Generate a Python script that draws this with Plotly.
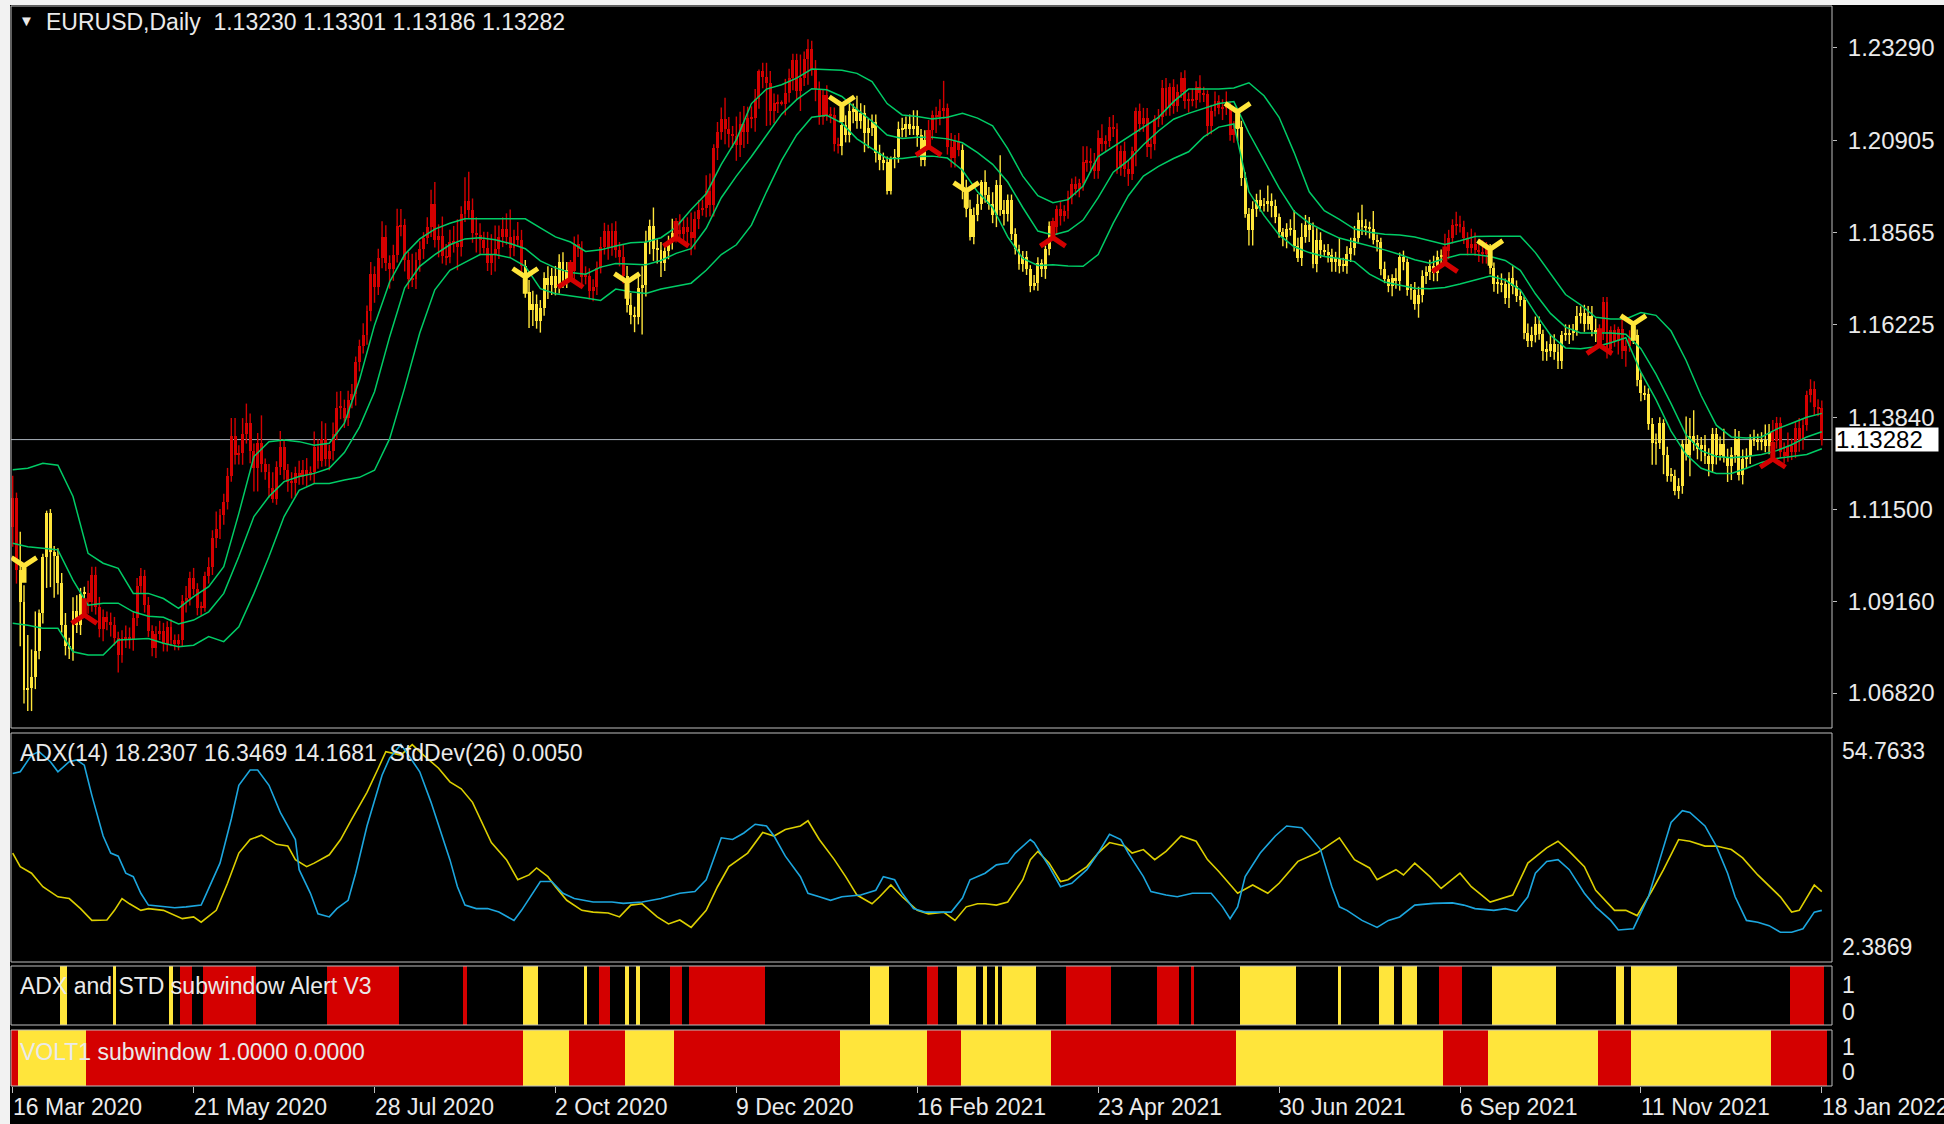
import plotly.graph_objects as go

# ======================= DATA =======================
# x axis: one slot per daily bar (bar 0 = 16 Mar 2020, bar 480 = 18 Jan 2022)
tick_bars = [0, 48, 96, 144, 192, 240, 288, 336, 384, 432, 480]
tick_dates = ["16 Mar 2020", "21 May 2020", "28 Jul 2020", "2 Oct 2020", "9 Dec 2020",
              "16 Feb 2021", "23 Apr 2021", "30 Jun 2021", "6 Sep 2021", "11 Nov 2021",
              "18 Jan 2022"]

price_ticks = [1.23290, 1.20905, 1.18565, 1.16225, 1.13840, 1.11500, 1.09160, 1.06820]

first_open = 1.1106
# daily closes in pips (price * 10000), month by month
close_pips = [
    11180, 10996, 10915, 10690, 10695, 10723, 10790, 10887, 11030, 11141, 11042, 11031,
    10963, 10856, 10803, 10794, 10891, 10855, 10935, 10938, 10914, 10984, 10902, 10844, 10875, 10862, 10856, 10823, 10779, 10822, 10824, 10820, 10873, 10955,
    10981, 10907, 10840, 10796, 10832, 10841, 10808, 10850, 10816, 10806, 10817, 10917, 10925, 10976, 10947, 10900, 10899, 10981, 11003, 11077, 11100,
    11136, 11170, 11236, 11338, 11290, 11294, 11343, 11370, 11298, 11256, 11320, 11265, 11246, 11205, 11177, 11258, 11310, 11251, 11220, 11218, 11244, 11233,
    11251, 11239, 11245, 11309, 11274, 11330, 11280, 11300, 11342, 11410, 11410, 11383, 11428, 11445, 11527, 11568, 11595, 11655, 11750, 11717, 11790, 11845, 11778,
    11763, 11800, 11872, 11876, 11787, 11737, 11737, 11786, 11814, 11842, 11870, 11930, 11838, 11847, 11797, 11793, 11833, 11830, 11820, 11903, 11937,
    11913, 11855, 11850, 11838, 11818, 11778, 11802, 11814, 11844, 11865, 11845, 11816, 11848, 11838, 11771, 11705, 11658, 11673, 11631, 11664, 11740, 11722,
    11746, 11716, 11781, 11735, 11761, 11758, 11826, 11814, 11744, 11745, 11706, 11717, 11767, 11820, 11861, 11817, 11860, 11812, 11795, 11746, 11672, 11647,
    11642, 11716, 11723, 11831, 11874, 11814, 11812, 11778, 11808, 11833, 11856, 11863, 11853, 11870, 11857, 11843, 11890, 11914, 11920, 11962, 11927,
    12071, 12113, 12145, 12121, 12108, 12102, 12079, 12134, 12112, 12147, 12148, 12197, 12269, 12254, 12238, 12165, 12186, 12188, 12185, 12213, 12249, 12297, 12216,
    12250, 12298, 12325, 12271, 12221, 12151, 12207, 12156, 12155, 12083, 12078, 12130, 12106, 12165, 12170, 12141, 12161, 12111, 12122, 12137,
    12060, 12040, 12035, 11963, 12045, 12049, 12119, 12119, 12132, 12120, 12128, 12105, 12040, 12092, 12118, 12157, 12150, 12166, 12175, 12075,
    12047, 12090, 12066, 11966, 11915, 11846, 11900, 11929, 11985, 11952, 11929, 11900, 11978, 11914, 11904, 11938, 11852, 11815, 11776, 11794, 11763, 11719, 11728,
    11778, 11763, 11813, 11874, 11870, 11915, 11899, 11911, 11948, 11979, 11966, 11983, 12036, 12036, 12034, 12013, 12097, 12083, 12089, 12126, 12120, 12021,
    12063, 12018, 12005, 12065, 12165, 12133, 12149, 12074, 12081, 12145, 12151, 12225, 12174, 12227, 12179, 12214, 12250, 12192, 12193, 12193, 12227,
    12213, 12209, 12127, 12167, 12191, 12173, 12176, 12176, 12105, 12120, 12126, 11995, 11904, 11863, 11916, 11940, 11925, 11929, 11936, 11925, 11895, 11858,
    11846, 11865, 11863, 11823, 11791, 11845, 11876, 11862, 11775, 11837, 11811, 11807, 11800, 11781, 11792, 11772, 11771, 11801, 11818, 11843, 11887, 11870,
    11869, 11866, 11836, 11833, 11762, 11737, 11719, 11740, 11733, 11795, 11780, 11710, 11710, 11674, 11698, 11745, 11755, 11772, 11752, 11795, 11798, 11808,
    11843, 11875, 11879, 11871, 11842, 11818, 11826, 11812, 11806, 11802, 11817, 11765, 11725, 11727, 11724, 11689, 11740, 11719, 11694, 11683, 11599, 11579,
    11596, 11622, 11598, 11554, 11554, 11572, 11552, 11528, 11595, 11597, 11601, 11608, 11644, 11652, 11623, 11644, 11607, 11597, 11602, 11680, 11558,
    11607, 11580, 11611, 11554, 11567, 11587, 11594, 11479, 11446, 11444, 11368, 11319, 11319, 11370, 11290, 11236, 11236, 11197, 11210, 11317, 11290, 11338,
    11320, 11303, 11315, 11286, 11265, 11343, 11290, 11316, 11285, 11260, 11289, 11330, 11239, 11278, 11286, 11327, 11328, 11321, 11327, 11311, 11348, 11325, 11370,
    11296, 11287, 11311, 11296, 11358, 11327, 11366, 11443, 11457, 11411, 11408, 11328.2,
]
# upper / lower shadow length of every bar, in pips
wick_up_pips = [
    56, 13, 97, 42, 135, 70, 100, 8, 7, 6, 10, 15,
    20, 25, 30, 20, 35, 40, 15, 15, 30, 20, 20, 25, 20, 15, 25, 20, 15, 20, 30, 25, 15, 20,
    20, 15, 20, 15, 20, 25, 20, 15, 20, 15, 15, 15, 30, 15, 25, 15, 15, 10, 25, 20, 45,
    15, 20, 20, 45, 45, 20, 40, 50, 25, 20, 25, 70, 15, 20, 40, 15, 40, 20, 15, 25, 15, 30,
    25, 30, 15, 40, 20, 45, 40, 15, 30, 40, 42, 20, 25, 25, 13, 15, 30, 15, 31, 20, 25, 40, 30,
    20, 25, 45, 40, 15, 20, 65, 20, 20, 15, 25, 35, 55, 30, 50, 30, 30, 40, 60, 20, 60,
    74, 30, 40, 30, 20, 40, 50, 60, 30, 30, 40, 70, 15, 35, 25, 15, 30, 35, 25, 20, 15, 30,
    20, 25, 20, 25, 20, 25, 20, 25, 20, 25, 20, 20, 15, 25, 20, 15, 20, 25, 20, 30, 25, 30,
    20, 30, 47, 30, 15, 46, 25, 20, 20, 15, 35, 30, 40, 20, 25, 50, 20, 25, 20, 40, 45,
    10, 25, 30, 55, 30, 20, 50, 30, 45, 30, 30, 25, 3, 20, 35, 30, 25, 20, 5, 35, 25, 15, 15,
    60, 20, 24, 20, 25, 20, 15, 25, 20, 20, 15, 20, 25, 25, 15, 35, 25, 20, 25, 20,
    20, 20, 20, 15, 5, 20, 20, 30, 20, 25, 40, 40, 15, 25, 25, 10, 20, 30, 68, 10,
    35, 15, 20, 15, 25, 25, 20, 25, 5, 30, 20, 30, 12, 75, 25, 15, 15, 15, 10, 15, 15, 10, 20,
    15, 10, 10, 10, 20, 10, 20, 15, 15, 15, 20, 10, 40, 40, 35, 25, 20, 35, 15, 25, 30, 15,
    15, 25, 20, 10, 10, 20, 25, 25, 15, 10, 20, 20, 25, 10, 20, 20, 15, 20, 20, 30, 15,
    30, 15, 10, 15, 25, 15, 20, 40, 15, 20, 20, 15, 15, 15, 20, 15, 25, 15, 40, 20, 15, 10,
    10, 15, 25, 50, 20, 35, 25, 20, 20, 30, 20, 15, 20, 15, 15, 50, 20, 20, 25, 30, 20, 40,
    20, 15, 45, 15, 10, 20, 10, 10, 25, 10, 15, 10, 15, 20, 20, 15, 15, 15, 25, 15, 15, 45,
    20, 15, 30, 20, 15, 15, 40, 30, 25, 30, 15, 10, 15, 20, 25, 15, 15, 30, 15, 15, 10, 25,
    20, 20, 20, 10, 25, 25, 25, 20, 10, 25, 20, 15, 25, 16, 20, 25, 25, 30, 20, 12, 12,
    10, 15, 5, 25, 15, 20, 15, 15, 20, 20, 15, 15, 25, 15, 10, 20, 20, 15, 20, 10, 70, 45,
    65, 20, 20, 25, 20, 15, 15, 20, 40, 20, 20, 25, 20, 25, 20, 15, 25, 15, 20, 40, 20, 30, 16,
    15, 25, 35, 20, 15, 25, 15, 10, 25, 20, 20, 20,
]
wick_dn_pips = [
    51, 35, 114, 35, 54, 59, 31, 22, 28, 80, 90, 106,
    30, 20, 25, 25, 30, 20, 25, 20, 30, 25, 20, 20, 30, 20, 30, 20, 45, 20, 25, 25, 30, 20,
    20, 20, 15, 20, 25, 15, 20, 20, 15, 15, 15, 15, 30, 20, 15, 20, 20, 10, 20, 20, 25,
    25, 25, 20, 15, 25, 25, 30, 25, 30, 60, 60, 20, 20, 25, 10, 15, 20, 25, 25, 40, 35, 20,
    20, 30, 15, 30, 20, 15, 20, 30, 25, 15, 30, 25, 20, 20, 30, 25, 20, 25, 25, 40, 20, 25, 20,
    50, 30, 20, 25, 30, 25, 20, 25, 30, 25, 15, 25, 20, 45, 20, 20, 15, 25, 60, 25, 20,
    20, 25, 45, 40, 15, 20, 30, 45, 25, 25, 20, 25, 20, 15, 15, 15, 45, 40, 20, 30, 20, 35,
    25, 20, 15, 20, 20, 25, 20, 20, 20, 20, 20, 25, 20, 15, 20, 30, 20, 20, 25, 20, 20, 25,
    40, 20, 120, 30, 30, 30, 35, 35, 20, 20, 20, 25, 20, 25, 30, 45, 30, 25, 15, 25, 30,
    30, 30, 20, 40, 35, 30, 40, 30, 40, 30, 25, 35, 25, 30, 110, 35, 30, 25, 5, 30, 25, 30, 20,
    50, 20, 65, 15, 30, 20, 20, 15, 20, 20, 20, 25, 20, 20, 30, 20, 20, 50, 40, 20,
    25, 25, 20, 10, 10, 25, 15, 20, 20, 15, 15, 30, 15, 15, 25, 25, 40, 20, 20, 20,
    25, 25, 15, 25, 20, 10, 20, 15, 15, 20, 15, 20, 30, 15, 30, 20, 15, 15, 15, 20, 15, 15, 10,
    20, 20, 25, 15, 15, 20, 25, 15, 20, 20, 15, 20, 20, 25, 25, 20, 20, 20, 20, 15, 20, 15,
    20, 20, 30, 15, 40, 20, 20, 25, 30, 15, 20, 20, 20, 20, 20, 15, 15, 20, 30, 15, 20,
    25, 20, 25, 20, 15, 15, 30, 20, 15, 20, 30, 20, 10, 40, 40, 20, 15, 15, 20, 30, 15, 15,
    25, 30, 15, 15, 10, 20, 15, 30, 10, 20, 20, 10, 20, 25, 25, 20, 15, 20, 20, 20, 15, 20,
    20, 25, 10, 25, 15, 10, 15, 25, 20, 25, 20, 15, 25, 15, 35, 20, 20, 20, 20, 20, 20, 20,
    20, 15, 25, 15, 15, 20, 15, 15, 25, 25, 25, 15, 20, 25, 20, 15, 25, 20, 15, 15, 15, 15,
    15, 20, 15, 25, 25, 15, 20, 20, 20, 15, 25, 20, 15, 20, 20, 15, 15, 20, 20, 20, 23,
    15, 15, 35, 20, 40, 15, 15, 15, 20, 15, 15, 55, 55, 15, 50, 15, 15, 11, 20, 20, 15, 55,
    20, 25, 30, 20, 30, 20, 25, 15, 15, 40, 35, 20, 15, 25, 25, 20, 15, 20, 20, 15, 20, 15, 20,
    15, 20, 15, 20, 15, 30, 25, 15, 20, 20, 20, 15,
]

# green channel lines, one reading every 4 bars (bar 0, 4, ..., 480)
band_step = 4
band_upper = [
    1.1251, 1.1255, 1.1268, 1.1263, 1.1183, 1.1038, 1.1013, 1.1000, 1.0936, 1.0936,
    1.0923, 1.0898, 1.0928, 1.0953, 1.1004, 1.1140, 1.1285, 1.1323, 1.1327, 1.1323,
    1.1314, 1.1319, 1.1370, 1.1480, 1.1620, 1.1730, 1.1800, 1.1840, 1.1865, 1.1880,
    1.1891, 1.1891, 1.1891, 1.1891, 1.1891, 1.1868, 1.1845, 1.1832, 1.1808, 1.1812,
    1.1822, 1.1830, 1.1832, 1.1843, 1.1870, 1.1915, 1.1955, 1.2030, 1.2093, 1.2185,
    1.2222, 1.2233, 1.2250, 1.2273, 1.2272, 1.2270, 1.2262, 1.2241, 1.2185, 1.2156,
    1.2152, 1.2146, 1.2150, 1.2160, 1.2148, 1.2128, 1.2070, 1.2000, 1.1950, 1.1932,
    1.1940, 1.1975, 1.2050, 1.2075, 1.2100, 1.2125, 1.2150, 1.2190, 1.2222, 1.2222,
    1.2222, 1.2225, 1.2238, 1.2205, 1.2150, 1.2060, 1.1960, 1.1912, 1.1890, 1.1865,
    1.1857, 1.1852, 1.1850, 1.1845, 1.1835, 1.1826, 1.1835, 1.1846, 1.1847, 1.1847,
    1.1847, 1.1805, 1.1750, 1.1698, 1.1672, 1.1640, 1.1636, 1.1636, 1.1652, 1.1645,
    1.1605, 1.1530, 1.1440, 1.1365, 1.1335, 1.1332, 1.1335, 1.1355, 1.1370, 1.1385,
    1.1395,
]
band_mid = [
    1.1064, 1.1055, 1.1051, 1.1047, 1.0970, 1.0906, 1.0911, 1.0911, 1.0889, 1.0878,
    1.0875, 1.0858, 1.0868, 1.0889, 1.0936, 1.1030, 1.1132, 1.1183, 1.1221, 1.1234,
    1.1242, 1.1255, 1.1295, 1.1360, 1.1450, 1.1590, 1.1715, 1.1770, 1.1800, 1.1825,
    1.1840, 1.1843, 1.1838, 1.1828, 1.1815, 1.1784, 1.1766, 1.1754, 1.1750, 1.1768,
    1.1777, 1.1775, 1.1774, 1.1785, 1.1803, 1.1815, 1.1867, 1.1945, 1.2000, 1.2050,
    1.2105, 1.2158, 1.2195, 1.2223, 1.2220, 1.2203, 1.2170, 1.2140, 1.2105, 1.2096,
    1.2099, 1.2099, 1.2095, 1.2085, 1.2060, 1.2030, 1.1985, 1.1920, 1.1860, 1.1850,
    1.1860, 1.1888, 1.1945, 1.2010, 1.2040, 1.2080, 1.2115, 1.2145, 1.2160, 1.2172,
    1.2185, 1.2190, 1.2110, 1.2040, 1.1970, 1.1910, 1.1880, 1.1860, 1.1842, 1.1832,
    1.1822, 1.1812, 1.1800, 1.1787, 1.1778, 1.1790, 1.1800, 1.1800, 1.1795, 1.1785,
    1.1760, 1.1700, 1.1650, 1.1615, 1.1600, 1.1600, 1.1600, 1.1597, 1.1560, 1.1495,
    1.1420, 1.1340, 1.1300, 1.1285, 1.1282, 1.1285, 1.1290, 1.1300, 1.1315, 1.1335,
    1.1348,
]
band_lower = [
    1.0860, 1.0855, 1.0847, 1.0847, 1.0787, 1.0779, 1.0779, 1.0817, 1.0819, 1.0821,
    1.0809, 1.0800, 1.0804, 1.0826, 1.0813, 1.0851, 1.0936, 1.1030, 1.1132, 1.1199,
    1.1216, 1.1216, 1.1225, 1.1232, 1.1250, 1.1330, 1.1460, 1.1600, 1.1710, 1.1760,
    1.1780, 1.1800, 1.1800, 1.1792, 1.1770, 1.1713, 1.1700, 1.1695, 1.1689, 1.1683,
    1.1712, 1.1705, 1.1701, 1.1712, 1.1720, 1.1727, 1.1760, 1.1800, 1.1825, 1.1875,
    1.1960, 1.2040, 1.2105, 1.2150, 1.2155, 1.2135, 1.2095, 1.2069, 1.2045, 1.2045,
    1.2050, 1.2051, 1.2046, 1.2015, 1.1960, 1.1920, 1.1845, 1.1790, 1.1772, 1.1774,
    1.1771, 1.1770, 1.1800, 1.1880, 1.1950, 1.2000, 1.2025, 1.2045, 1.2062, 1.2100,
    1.2125, 1.2133, 1.1960, 1.1900, 1.1850, 1.1820, 1.1805, 1.1795, 1.1790, 1.1782,
    1.1750, 1.1730, 1.1722, 1.1714, 1.1713, 1.1716, 1.1725, 1.1735, 1.1745, 1.1735,
    1.1710, 1.1650, 1.1595, 1.1562, 1.1560, 1.1565, 1.1575, 1.1588, 1.1500, 1.1430,
    1.1350, 1.1290, 1.1255, 1.1242, 1.1242, 1.1255, 1.1270, 1.1280, 1.1285, 1.1290,
    1.1305,
]

# signal arrows
down_arrow_bar = [3, 136, 163, 220, 253, 325, 392, 430]
down_arrow_price = [1.1006, 1.1743, 1.1730, 1.2181, 1.1962, 1.2164, 1.1814, 1.1623]
up_arrow_bar = [19, 148, 176, 243, 276, 380, 421, 467]
up_arrow_price = [1.0881, 1.1738, 1.1843, 1.2075, 1.1843, 1.1778, 1.1569, 1.1279]

# VOLT1 state segments (also the colour of the price bars): R = red, Y = yellow
volt_start = [0, 2, 20, 136, 148, 163, 176, 220, 243, 252, 276, 325, 380, 392, 421, 430, 467]
volt_end = [2, 20, 136, 148, 163, 176, 220, 243, 252, 276, 325, 380, 392, 421, 430, 467, 482]
volt_state = ["R", "Y", "R", "Y", "R", "Y", "R", "Y", "R", "Y", "R", "Y", "R", "Y", "R", "Y", "R"]

# "ADX and STD subwindow Alert V3" segments (bars without a segment are empty)
alert_start = [13, 27, 42, 45, 51, 84, 120, 136, 152, 156, 163, 166, 175, 180, 228, 243,
               251, 258, 261, 263, 280, 304, 313, 326, 352, 363, 369, 379, 393, 426, 430, 472]
alert_end = [15, 28, 43, 48, 65, 103, 121, 140, 153, 159, 164, 167, 178, 200, 233, 246,
             256, 259, 262, 272, 292, 310, 314, 341, 353, 367, 373, 385, 410, 428, 442, 481]
alert_state = ["Y", "Y", "Y", "R", "R", "R", "R", "Y", "Y", "R", "Y", "Y", "R", "R", "Y", "R",
               "Y", "Y", "Y", "Y", "R", "R", "R", "Y", "Y", "Y", "Y", "R", "Y", "Y", "Y", "R"]

# ADX / StdDev sub-window lines (bar, value)
adx_blue_bar = [0, 2, 5, 7, 10, 12, 15, 17, 19, 21, 24, 26, 28, 30, 32, 34, 36, 40, 43, 46, 50, 51, 55, 58,
                60, 63, 65, 68, 71, 75, 76, 79, 81, 84, 86, 89, 91, 94, 98, 100, 103, 105, 108, 111, 113,
                116, 118, 120, 123, 126, 129, 133, 135, 138, 140, 143, 146, 149, 154, 159, 162, 167, 172,
                177, 181, 184, 186, 188, 191, 194, 197, 200, 202, 205, 209, 211, 214, 217, 220, 225, 229,
                231, 234, 236, 239, 242, 245, 249, 252, 254, 258, 261, 264, 266, 270, 271, 275, 278, 281,
                285, 288, 291, 294, 296, 300, 302, 306, 309, 313, 318, 321, 323, 325, 327, 331, 335, 338,
                342, 344, 347, 350, 352, 354, 358, 362, 365, 368, 372, 377, 382, 385, 388, 393, 396, 399,
                402, 404, 407, 410, 413, 417, 420, 424, 426, 430, 434, 437, 440, 443, 445, 449, 452, 455,
                457, 460, 463, 466, 469, 472, 475, 478, 480]
adx_blue_val = [45.5, 45.9, 49.7, 50.5, 48.2, 45.9, 48.2, 48.6, 47.4, 40.5, 31.2, 27.3, 26.6, 22.7, 21.9,
                18.1, 15.4, 15.0, 14.8, 15.0, 15.4, 17.3, 25.0, 35.1, 42.8, 46.3, 46.3, 42.8, 36.6, 30.4,
                23.5, 18.1, 13.4, 12.7, 14.6, 16.5, 22.7, 33.5, 45.1, 49.0, 52.1, 49.7, 45.9, 38.9, 33.5,
                25.8, 19.6, 15.4, 14.6, 14.6, 13.8, 11.9, 14.2, 18.1, 20.8, 20.8, 18.1, 16.9, 16.1, 16.1,
                15.8, 16.1, 16.9, 18.1, 18.5, 21.2, 25.8, 30.8, 30.4, 31.9, 33.9, 33.5, 31.2, 26.6, 21.9,
                18.1, 17.3, 16.5, 17.3, 17.7, 18.8, 21.9, 21.2, 18.1, 14.6, 13.8, 13.8, 13.8, 17.0, 21.2,
                22.7, 24.6, 25.0, 27.3, 30.4, 29.7, 24.2, 19.6, 20.4, 23.5, 27.3, 31.6, 30.4, 27.3, 21.9,
                18.5, 17.7, 17.3, 18.1, 18.1, 15.0, 12.3, 15.0, 21.9, 27.3, 31.2, 33.5, 33.1, 31.2, 28.1,
                19.6, 15.0, 14.2, 11.9, 10.3, 11.9, 12.7, 15.4, 15.8, 15.9, 15.4, 14.6, 14.2, 14.6, 14.0,
                17.3, 22.7, 25.4, 25.8, 23.5, 18.1, 15.0, 11.9, 9.7, 10.0, 17.3, 25.8, 34.3, 37.0, 36.6,
                33.5, 28.9, 22.7, 17.3, 11.9, 11.5, 10.7, 9.2, 9.2, 10.0, 13.8, 14.2]
adx_yel_bar = [0, 2, 5, 8, 12, 15, 18, 21, 25, 27, 29, 31, 34, 36, 40, 43, 45, 48, 50, 54, 57, 60, 63, 66,
               70, 73, 75, 78, 80, 84, 87, 90, 94, 97, 99, 103, 106, 109, 113, 116, 119, 122, 124, 127,
               131, 134, 137, 139, 142, 144, 147, 151, 154, 158, 161, 164, 167, 171, 174, 177, 180, 184,
               187, 190, 195, 199, 202, 205, 209, 211, 214, 218, 221, 224, 228, 230, 233, 236, 240, 243,
               247, 250, 253, 256, 258, 261, 264, 268, 270, 272, 275, 278, 280, 285, 288, 291, 295, 297,
               300, 303, 306, 310, 314, 317, 320, 325, 329, 333, 336, 341, 346, 350, 352, 356, 360, 362,
               367, 369, 372, 376, 379, 384, 387, 392, 395, 398, 402, 407, 410, 413, 417, 420, 425, 428,
               431, 435, 438, 442, 445, 449, 452, 456, 459, 463, 469, 472, 474, 478, 480]
adx_yel_val = [27.3, 24.2, 22.7, 19.6, 17.3, 16.9, 14.6, 11.9, 12.0, 14.2, 16.9, 15.7, 14.2, 14.6, 14.2,
               13.0, 12.3, 12.7, 11.5, 14.2, 20.4, 27.3, 30.4, 31.4, 29.3, 28.9, 25.8, 24.2, 25.0, 26.9,
               30.4, 35.1, 41.2, 46.7, 50.5, 49.7, 52.1, 49.7, 46.7, 43.6, 42.0, 38.9, 35.1, 29.7, 25.8,
               21.2, 22.3, 23.9, 21.9, 19.6, 16.5, 14.2, 13.8, 13.6, 12.7, 15.4, 15.7, 12.7, 11.1, 12.0,
               10.3, 14.2, 19.6, 24.2, 27.3, 32.0, 31.2, 32.7, 33.5, 34.7, 30.4, 25.8, 21.9, 17.7, 15.7,
               17.3, 20.0, 17.3, 14.2, 13.4, 13.8, 11.9, 15.0, 15.7, 15.7, 15.4, 16.1, 21.2, 25.8, 27.7,
               25.0, 20.8, 21.2, 24.2, 27.3, 29.7, 28.9, 27.3, 28.1, 25.8, 27.7, 31.2, 30.0, 25.8, 23.1,
               18.1, 20.0, 18.1, 20.4, 25.4, 27.3, 29.7, 30.8, 25.8, 23.9, 21.2, 23.5, 22.3, 25.0, 21.9,
               19.2, 22.7, 19.6, 16.1, 16.9, 17.7, 25.0, 28.5, 30.0, 27.7, 24.2, 18.8, 14.2, 14.2, 13.0,
               18.8, 23.5, 30.4, 30.0, 28.9, 28.9, 28.1, 26.2, 22.3, 17.3, 13.8, 14.2, 20.0, 18.5]
adx_max, adx_min = 54.7633, 2.3869

# ======================= FIGURE =======================
n = len(close_pips)
assert len(wick_up_pips) == n and len(wick_dn_pips) == n, (len(wick_up_pips), len(wick_dn_pips), n)
assert len(band_upper) == len(band_mid) == len(band_lower)
assert len(adx_blue_bar) == len(adx_blue_val) and len(adx_yel_bar) == len(adx_yel_val)

closes = [c / 10000 for c in close_pips]
opens = [first_open] + closes[:-1]
highs = [max(o, c) + u / 10000 for o, c, u in zip(opens, closes, wick_up_pips)]
lows = [min(o, c) - d / 10000 for o, c, d in zip(opens, closes, wick_dn_pips)]
last_price = closes[-1]

RED = "#D40000"
YEL = "#FFE53B"
GREEN = "#00CC66"
BLUE = "#1CA6DE"
ADXYEL = "#DCCF00"
FRAME = "#BEBEBE"
TXT = "#EAEAEA"
FONT = "Liberation Sans"
COL = {"R": RED, "Y": YEL}

W, H = 1944, 1124
ML, MR, MT, MB = 11, 112, 6, 38
PW, PH = W - ML - MR, H - MT - MB


def py(pix):
    return (H - MB - pix) / PH


def pxf(pix):
    return (pix - ML) / PW


bar_state = [None] * n
for s, e, st in zip(volt_start, volt_end, volt_state):
    for i in range(s, min(e, n)):
        bar_state[i] = st

fig = go.Figure()

# price bars, coloured by the VOLT1 state
for st in ("R", "Y"):
    idx = [i for i in range(n) if bar_state[i] == st]
    base = [min(opens[i], closes[i]) for i in idx]
    hgt = [max(abs(closes[i] - opens[i]), 0.0004) for i in idx]
    fig.add_trace(go.Bar(x=idx, y=hgt, base=base, width=0.78, xaxis="x", yaxis="y",
                         marker=dict(color=COL[st], line=dict(width=0)), hoverinfo="skip"))
    wx, wy = [], []
    for i in idx:
        wx += [i, i, None]
        wy += [lows[i], highs[i], None]
    fig.add_trace(go.Scatter(x=wx, y=wy, mode="lines", xaxis="x", yaxis="y",
                             line=dict(color=COL[st], width=1.4), hoverinfo="skip"))

band_x = [k * band_step for k in range(len(band_upper))]
for arr in (band_upper, band_mid, band_lower):
    fig.add_trace(go.Scatter(x=band_x, y=arr, mode="lines", xaxis="x", yaxis="y",
                             line=dict(color=GREEN, width=1.5), hoverinfo="skip"))

fig.add_trace(go.Scatter(x=down_arrow_bar, y=down_arrow_price, mode="markers", xaxis="x", yaxis="y",
                         marker=dict(symbol="y-down", size=21, color=YEL, line=dict(color=YEL, width=5)),
                         hoverinfo="skip"))
fig.add_trace(go.Scatter(x=up_arrow_bar, y=up_arrow_price, mode="markers", xaxis="x", yaxis="y",
                         marker=dict(symbol="y-up", size=21, color=RED, line=dict(color=RED, width=5)),
                         hoverinfo="skip"))

# ADX window
fig.add_trace(go.Scatter(x=adx_yel_bar, y=adx_yel_val, mode="lines", xaxis="x2", yaxis="y2",
                         line=dict(color=ADXYEL, width=1.6), hoverinfo="skip"))
fig.add_trace(go.Scatter(x=adx_blue_bar, y=adx_blue_val, mode="lines", xaxis="x2", yaxis="y2",
                         line=dict(color=BLUE, width=1.6), hoverinfo="skip"))


def seg_bars(starts, ends, states, xa, ya):
    for st in ("R", "Y"):
        sel = [k for k in range(len(starts)) if states[k] == st]
        xs = [(starts[k] + ends[k] - 1) / 2 for k in sel]
        ws = [ends[k] - starts[k] for k in sel]
        fig.add_trace(go.Bar(x=xs, y=[1] * len(sel), base=[0] * len(sel), width=ws,
                             xaxis=xa, yaxis=ya, marker=dict(color=COL[st], line=dict(width=0)),
                             hoverinfo="skip"))


seg_bars(alert_start, alert_end, alert_state, "x3", "y3")
seg_bars(volt_start, volt_end, volt_state, "x4", "y4")

xr = [-0.45, 482.7]
xcommon = dict(range=xr, showgrid=False, zeroline=False, showticklabels=False, showline=False)
ycommon = dict(showgrid=False, zeroline=False, showline=False)

fig.update_layout(
    width=W, height=H,
    margin=dict(l=ML, r=MR, t=MT, b=MB),
    paper_bgcolor="black", plot_bgcolor="black",
    showlegend=False, barmode="overlay", bargap=0,
    font=dict(family=FONT, color=TXT, size=23),
    xaxis=dict(**xcommon, anchor="y"),
    xaxis2=dict(**xcommon, anchor="y2"),
    xaxis3=dict(**xcommon, anchor="y3"),
    xaxis4=dict(**xcommon, anchor="y4", ticks="outside", ticklen=6, tickwidth=1,
                tickcolor=FRAME, tickvals=tick_bars),
    yaxis=dict(**ycommon, domain=[py(728), 1.0], range=[1.05928, 1.24338], side="right",
               tickvals=price_ticks, ticktext=[f"{v:.5f}" for v in price_ticks],
               ticks="outside", ticklen=4, tickcolor=FRAME, ticklabelstandoff=6,
               tickfont=dict(family=FONT, size=24, color=TXT)),
    yaxis2=dict(**ycommon, domain=[py(962), py(733)], range=[adx_min, adx_max], showticklabels=False),
    yaxis3=dict(**ycommon, domain=[py(1025), py(966)], range=[0, 1], showticklabels=False),
    yaxis4=dict(**ycommon, domain=[py(1086), py(1030)], range=[0, 1], showticklabels=False),
)

shapes = []
for xa, ya in (("x", "y"), ("x2", "y2"), ("x3", "y3"), ("x4", "y4")):
    shapes.append(dict(type="rect", xref=f"{xa} domain", yref=f"{ya} domain", x0=0, x1=1, y0=0, y1=1,
                       line=dict(color=FRAME, width=1), layer="above"))
shapes.append(dict(type="line", xref="x domain", yref="y", x0=0, x1=1, y0=last_price, y1=last_price,
                   line=dict(color="#A9B1BA", width=1), layer="below"))
# window chrome (white strips at left and top)
shapes.append(dict(type="rect", xref="paper", yref="paper", x0=pxf(0), x1=pxf(10), y0=py(H), y1=py(0),
                   line=dict(width=0), fillcolor="#F2F2F2", layer="above"))
shapes.append(dict(type="rect", xref="paper", yref="paper", x0=pxf(0), x1=pxf(W), y0=py(5), y1=py(0),
                   line=dict(width=0), fillcolor="#F2F2F2", layer="above"))
fig.update_layout(shapes=shapes)

ann = []


def label(text, x, y, xref="paper", yref="paper", size=23, color=TXT, **kw):
    ann.append(dict(text=text, x=x, y=y, xref=xref, yref=yref, xanchor=kw.pop("xanchor", "left"),
                    yanchor=kw.pop("yanchor", "middle"), showarrow=False,
                    font=dict(family=FONT, size=size, color=color), **kw))


label("\u25BC", pxf(17), py(21), size=15)
label("EURUSD,Daily\u00a0\u00a01.13230 1.13301 1.13186 " + f"{last_price:.5f}", pxf(44), py(22))
label("ADX(14) 18.2307 16.3469 14.1681\u00a0\u00a0StdDev(26) 0.0050", pxf(18), py(753))
label("ADX and STD subwindow Alert V3", pxf(18), py(986))
label("VOLT1 subwindow 1.0000 0.0000", pxf(18), py(1052))
label(f"{adx_max:.4f}", pxf(1840), py(751))
label(f"{adx_min:.4f}", pxf(1840), py(947))
label("1", pxf(1840), py(985))
label("0", pxf(1840), py(1012))
label("1", pxf(1840), py(1047))
label("0", pxf(1840), py(1072))
for b, t in zip(tick_bars, tick_dates):
    label(t, b, py(1107), xref="x4", xshift=-2)
# current price box on the price scale
ann.append(dict(text=f"{last_price:.5f}", x=pxf(1835), y=last_price, xref="paper", yref="y",
                xanchor="left", yanchor="middle", showarrow=False, bgcolor="white",
                width=102, height=23, align="left", borderpad=0,
                font=dict(family=FONT, size=24, color="black")))
fig.update_layout(annotations=ann)

fig.write_html("out.html",
               config={"displayModeBar": False},
               post_script="document.body.style.margin='0';document.body.style.overflow='hidden';")
